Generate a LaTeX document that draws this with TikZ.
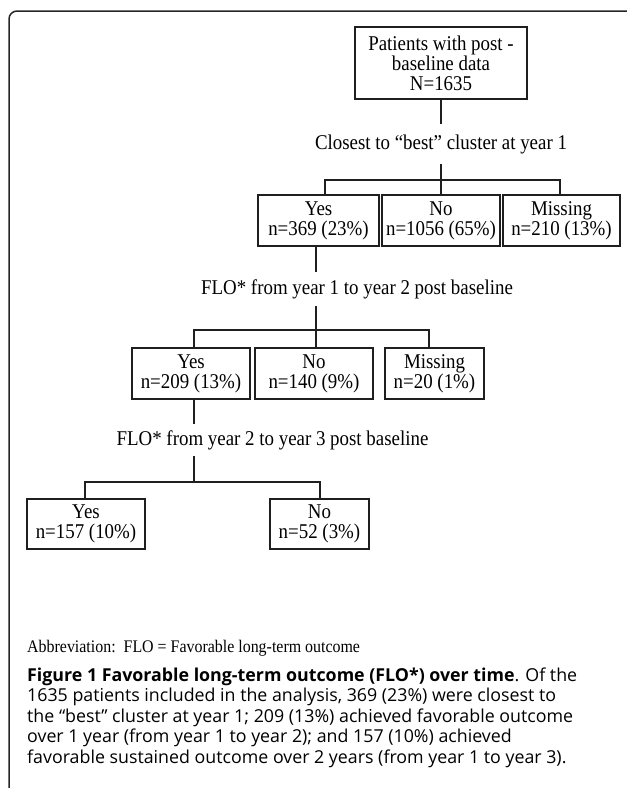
\documentclass[tikz,border=0pt]{standalone}
\usepackage{fontspec}
\setmainfont{Liberation Serif}
\newfontfamily\diagfont[FakeStretch=0.9]{Liberation Serif}
\newfontfamily\capfont{Open Sans}
\begin{document}
\begin{tikzpicture}[x=1pt,y=-1pt,
  box/.style={draw=black!88, line width=2pt, inner sep=0pt, align=center,
    font=\diagfont\fontsize{21}{20}\selectfont},
  lbl/.style={inner sep=0pt, font=\diagfont\fontsize{21}{20}\selectfont},
  conn/.style={draw=black!88, line width=2pt},
  captext/.style={anchor=base west, inner sep=0pt, font=\capfont\fontsize{17.8}{20.5}\selectfont},
  ]
\useasboundingbox (0,0) rectangle (627,788);
\clip (0,0) rectangle (627,788);
% outer frame
\draw[line width=1.5pt, black!85, rounded corners=8pt] (9,800) -- (9,11) -- (640,11);

% top
\node[box, minimum width=172pt, minimum height=72pt] (top) at (441,63) {Patients with post -\\baseline data\\N=1635};
\node[lbl, minimum height=40pt] (l1) at (441,144) {Closest to “best” cluster at year 1};
\coordinate (j1) at (441,180);
\coordinate (j1l) at (325,180);
\coordinate (j1r) at (560,180);

% level 1
\node[box, minimum width=121pt, minimum height=51pt] (y1) at (318.5,220.5) {Yes\\n=369 (23\%)};
\node[box, minimum width=118pt, minimum height=51pt] (n1) at (441,220.5) {No\\n=1056 (65\%)};
\node[box, minimum width=117pt, minimum height=51pt] (m1) at (561.5,220.5) {Missing\\n=210 (13\%)};

\draw[conn] (top.south) -- (l1.north);
\draw[conn] (l1.south) -- (j1);
\draw[conn] (j1l |- y1.north) -- (j1l) -- (j1r) -- (j1r |- m1.north);
\draw[conn] (j1) -- (n1.north);

% level 2
\node[lbl, minimum height=34pt] (l2) at (357,289) {FLO* from year 1 to year 2 post baseline};
\coordinate (j2) at (316,330);
\coordinate (j2l) at (194,330);
\coordinate (j2r) at (429,330);
\node[box, minimum width=118pt, minimum height=51pt] (y2) at (191,373.5) {Yes\\n=209 (13\%)};
\node[box, minimum width=118pt, minimum height=51pt] (n2) at (314,373.5) {No\\n=140 (9\%)};
\node[box, minimum width=99pt, minimum height=51pt] (m2) at (434.5,373.5) {Missing\\n=20 (1\%)};

\draw[conn] (j2 |- y1.south) -- (j2 |- l2.north);
\draw[conn] (j2 |- l2.south) -- (j2);
\draw[conn] (j2l |- y2.north) -- (j2l) -- (j2r) -- (j2r |- m2.north);
\draw[conn] (j2) -- (j2 |- n2.north);

% level 3
\node[lbl, minimum height=31pt] (l3) at (272.5,440) {FLO* from year 2 to year 3 post baseline};
\coordinate (j3) at (194,482);
\coordinate (j3l) at (85,482);
\coordinate (j3r) at (320,482);
\node[box, minimum width=118pt, minimum height=50pt] (y3) at (86,524) {Yes\\n=157 (10\%)};
\node[box, minimum width=99pt, minimum height=50pt] (n3) at (319.5,524) {No\\n=52 (3\%)};

\draw[conn] (j3 |- y2.south) -- (j3 |- l3.north);
\draw[conn] (j3 |- l3.south) -- (j3);
\draw[conn] (j3l |- y3.north) -- (j3l) -- (j3r) -- (j3r |- n3.north);

% abbreviation and caption
\node[anchor=base west, inner sep=0pt, font=\diagfont\fontsize{17.7}{18}\selectfont] (abbr) at (27,652) {Abbreviation:\ \ FLO = Favorable long-term outcome};
\node[captext] (c1) at (27,681) {\textbf{Figure 1 Favorable long-term outcome (FLO*) over time}. Of the};
\node[captext] (c2) at (27,701.5) {1635 patients included in the analysis, 369 (23\%) were closest to};
\node[captext] (c3) at (27,722) {the “best” cluster at year 1; 209 (13\%) achieved favorable outcome};
\node[captext] (c4) at (27,742.5) {over 1 year (from year 1 to year 2); and 157 (10\%) achieved};
\node[captext] (c5) at (27,763) {favorable sustained outcome over 2 years (from year 1 to year 3).};
\end{tikzpicture}
\end{document}
